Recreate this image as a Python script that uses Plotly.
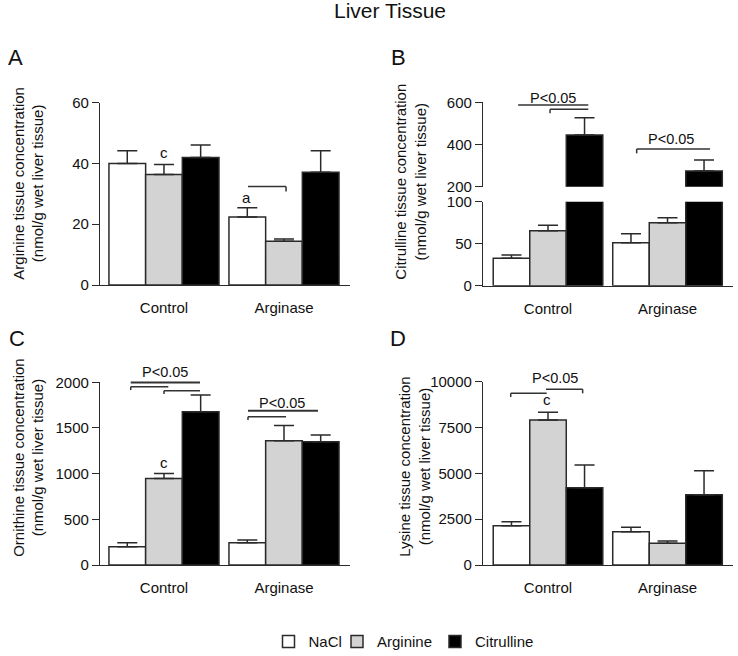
import plotly.graph_objects as go

W, H = 738, 656

groups = ["Control", "Arginase"]
treatments = ["NaCl", "Arginine", "Citrulline"]
fills = ["#ffffff", "#d3d3d3", "#000000"]

# Panel A: Arginine (nmol/g)
arg_nacl = [40.0, 22.4]
arg_arg = [36.4, 14.4]
arg_cit = [42.0, 37.1]
arg_nacl_err = [4.2, 3.0]
arg_arg_err = [3.3, 0.7]
arg_cit_err = [4.1, 7.1]

# Panel B: Citrulline (nmol/g)
cit_nacl = [32.6, 51.2]
cit_arg = [65.5, 75.0]
cit_cit = [445, 274]
cit_nacl_err = [3.9, 10.7]
cit_arg_err = [6.4, 6.0]
cit_cit_err = [82, 53]

# Panel C: Ornithine (nmol/g)
orn_nacl = [200, 244]
orn_arg = [948, 1360]
orn_cit = [1677, 1349]
orn_nacl_err = [44, 29]
orn_arg_err = [55, 168]
orn_cit_err = [183, 73]

# Panel D: Lysine (nmol/g)
lys_nacl = [2144, 1818]
lys_arg = [7910, 1182]
lys_cit = [4218, 3836]
lys_nacl_err = [218, 237]
lys_arg_err = [420, 127]
lys_cit_err = [1237, 1309]

# tick values
ticks_a = [0, 20, 40, 60]
ticks_b_low = [0, 50, 100]
ticks_b_high = [200, 400, 600]
ticks_c = [0, 500, 1000, 1500, 2000]
ticks_d = [0, 2500, 5000, 7500, 10000]

LINE = "#2a2a2a"
FONT = "Arial, Liberation Sans, sans-serif"
legend_ids = ["legend", "legend2", "legend3"]
legend_left_px = [268.5, 337, 435]

fig = go.Figure()


def add_bars(xa, ya, means, errs, legend=False):
    for name, fill, m, e, lid in zip(treatments, fills, means, errs,
                                     legend_ids):
        fig.add_trace(go.Bar(
            x=groups, y=m, name=name, xaxis=xa, yaxis=ya,
            marker=dict(color=fill, line=dict(color=LINE, width=1.5)),
            error_y=dict(type="data", symmetric=False, array=e,
                         arrayminus=[0] * len(e), color=LINE,
                         thickness=1.5, width=10),
            showlegend=legend, legendgroup=name, legend=lid,
        ))


add_bars("x", "y", [arg_nacl, arg_arg, arg_cit],
         [arg_nacl_err, arg_arg_err, arg_cit_err], legend=True)
add_bars("x2", "y2", [cit_nacl, cit_arg, cit_cit],
         [cit_nacl_err, cit_arg_err, cit_cit_err])
add_bars("x2", "y3", [cit_nacl, cit_arg, cit_cit],
         [cit_nacl_err, cit_arg_err, cit_cit_err])
add_bars("x3", "y4", [orn_nacl, orn_arg, orn_cit],
         [orn_nacl_err, orn_arg_err, orn_cit_err])
add_bars("x4", "y5", [lys_nacl, lys_arg, lys_cit],
         [lys_nacl_err, lys_arg_err, lys_cit_err])


def px_x(p):
    return p / W


def px_y(p):
    return (H - p) / H


def xaxis(dom, anchor, rng):
    return dict(domain=[px_x(dom[0]), px_x(dom[1])], anchor=anchor,
                type="category", range=rng, showline=True, linecolor=LINE,
                linewidth=1.3, ticks="", showgrid=False, zeroline=False,
                tickfont=dict(size=15, color="#111"), ticklabelstandoff=9)


def yaxis(dom, anchor, rng, tickvals):
    return dict(domain=[px_y(dom[0]), px_y(dom[1])], anchor=anchor,
                range=rng, tickvals=tickvals,
                ticktext=[str(v) for v in tickvals], showline=True,
                linecolor=LINE, linewidth=1.3, ticks="outside", ticklen=7,
                tickwidth=1.3, tickcolor=LINE, showgrid=False,
                zeroline=False, tickfont=dict(size=15, color="#111"))


axes = dict(
    xaxis=xaxis((100, 350), "y", [-0.533, 1.55]),
    yaxis=yaxis((285, 102.7), "x", [0, 60], ticks_a),
    xaxis2=xaxis((483, 733), "y2", [-0.544, 1.548]),
    yaxis2=yaxis((285.7, 201.7), "x2", [0, 100], ticks_b_low),
    yaxis3=yaxis((186.7, 102.3), "x2", [200, 600], ticks_b_high),
    xaxis3=xaxis((100, 350), "y4", [-0.533, 1.55]),
    yaxis4=yaxis((565, 382.3), "x3", [0, 2000], ticks_c),
    xaxis4=xaxis((483, 733), "y5", [-0.544, 1.548]),
    yaxis5=yaxis((565, 381.7), "x4", [0, 10000], ticks_d),
)

legends = {}
for lid, lx in zip(legend_ids, legend_left_px):
    legends[lid] = dict(orientation="h", x=px_x(lx), xanchor="left",
                        y=px_y(641.7), yanchor="middle", font=dict(size=15),
                        bgcolor="rgba(0,0,0,0)", itemclick=False,
                        itemdoubleclick=False)

fig.update_layout(
    width=W, height=H,
    margin=dict(l=0, r=0, t=0, b=0, pad=0, autoexpand=False),
    paper_bgcolor="white", plot_bgcolor="white",
    font=dict(family=FONT, color="#111"),
    barmode="group", bargap=0.083, bargroupgap=0,
    **legends,
    **axes,
)


def data_to_paper(axname, v):
    ax = axes[axname]
    lo, hi = ax["range"]
    d0, d1 = ax["domain"]
    return d0 + (v - lo) / (hi - lo) * (d1 - d0)


ann = []


def text(x, y, s, size=15, angle=0, xanchor="center"):
    ann.append(dict(x=x, y=y, xref="paper", yref="paper", text=s,
                    showarrow=False, xanchor=xanchor, yanchor="middle",
                    textangle=angle, font=dict(size=size, family=FONT,
                                               color="#111")))


def dtext(xaxn, yaxn, x, y, s, size=15):
    # position in data units converted through the axis scales
    text(data_to_paper(xaxn, x), data_to_paper(yaxn, y), s, size=size)


# title and panel letters
text(px_x(332), px_y(11), "Liver Tissue", size=21, xanchor="left")
text(px_x(15), px_y(58), "A", size=22)
text(px_x(398), px_y(58), "B", size=22)
text(px_x(17), px_y(338), "C", size=22)
text(px_x(398), px_y(338), "D", size=22)

# axis titles
text(px_x(28.3), px_y(183.4),
     "Arginine tissue concentration<br>(nmol/g wet liver tissue)", angle=-90)
text(px_x(411), px_y(181.7),
     "Citrulline tissue concentration<br>(nmol/g wet liver tissue)", angle=-90)
text(px_x(28.3), px_y(457.5),
     "Ornithine tissue concentration<br>(nmol/g wet liver tissue)", angle=-90)
text(px_x(415), px_y(466.7),
     "Lysine tissue concentration<br>(nmol/g wet liver tissue)", angle=-90)

shapes = []


def seg(xaxn, yaxn, x0, y0, x1, y1, w=1.5):
    shapes.append(dict(type="line", xref="paper", yref="paper",
                       x0=data_to_paper(xaxn, x0), y0=data_to_paper(yaxn, y0),
                       x1=data_to_paper(xaxn, x1), y1=data_to_paper(yaxn, y1),
                       line=dict(color="#333", width=w)))


P = "P&lt;0.05"

# Panel A marks
dtext("xaxis", "yaxis", 0.0, 43.6, "c")
dtext("xaxis", "yaxis", 0.69, 28.7, "a")
seg("xaxis", "yaxis", 0.70, 32.4, 1.017, 32.4)
seg("xaxis", "yaxis", 1.017, 32.4, 1.017, 30.8)

# Panel B marks (upper part)
dtext("xaxis2", "yaxis3", 0.04, 622, P, size=14.5)
seg("xaxis2", "yaxis3", -0.25, 587, 0.337, 587)
seg("xaxis2", "yaxis3", 0.017, 567, 0.337, 567)
seg("xaxis2", "yaxis3", 0.017, 567, 0.017, 548)
dtext("xaxis2", "yaxis3", 1.03, 426, P, size=14.5)
seg("xaxis2", "yaxis3", 0.742, 379, 1.356, 379)
seg("xaxis2", "yaxis3", 0.742, 379, 0.742, 358)

# Panel C marks
dtext("xaxis3", "yaxis4", 0.008, 2115, P, size=14.5)
seg("xaxis3", "yaxis4", -0.277, 1999, 0.30, 1999, w=2)
seg("xaxis3", "yaxis4", -0.277, 1951, 0.036, 1951)
seg("xaxis3", "yaxis4", -0.277, 1951, -0.277, 1915)
seg("xaxis3", "yaxis4", 0.0, 1907, 0.30, 1907)
seg("xaxis3", "yaxis4", 0.0, 1907, 0.0, 1871)
dtext("xaxis3", "yaxis4", 0.0, 1119, "c")
dtext("xaxis3", "yaxis4", 0.98, 1776, P, size=14.5)
seg("xaxis3", "yaxis4", 0.70, 1688, 1.283, 1688, w=2)
seg("xaxis3", "yaxis4", 0.70, 1622, 1.017, 1622)
seg("xaxis3", "yaxis4", 0.70, 1622, 0.70, 1586)

# Panel D marks
dtext("xaxis4", "yaxis5", 0.06, 10186, P, size=14.5)
seg("xaxis4", "yaxis5", -0.312, 9367, -0.011, 9367)
seg("xaxis4", "yaxis5", -0.312, 9367, -0.312, 9165)
seg("xaxis4", "yaxis5", -0.017, 9585, 0.29, 9585)
seg("xaxis4", "yaxis5", 0.29, 9585, 0.29, 9367)
dtext("xaxis4", "yaxis5", -0.006, 9040, "c")

fig.update_layout(annotations=ann, shapes=shapes)

# remove the browser's default 8px page margin so the figure fills the window
fig.write_html("out.html",
               config={"displayModeBar": False},
               post_script="document.body.style.margin='0';")
